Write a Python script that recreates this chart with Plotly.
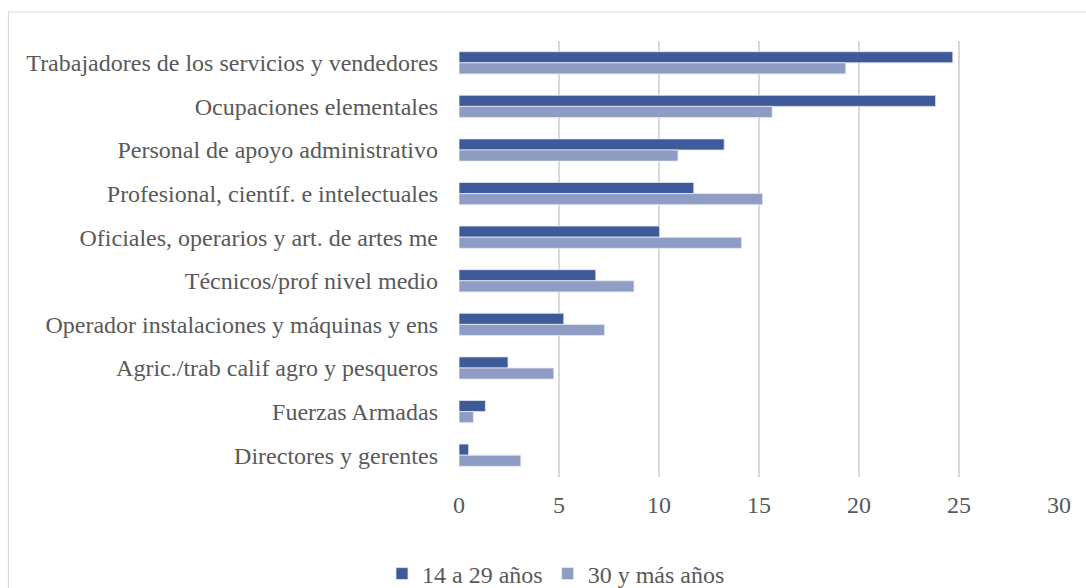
import plotly.graph_objects as go

categories = [
    "Trabajadores de los servicios y vendedores",
    "Ocupaciones elementales",
    "Personal de apoyo administrativo",
    "Profesional, científ. e intelectuales",
    "Oficiales, operarios y art. de artes me",
    "Técnicos/prof nivel medio",
    "Operador instalaciones y máquinas y ens",
    "Agric./trab calif agro y pesqueros",
    "Fuerzas Armadas",
    "Directores y gerentes",
]
jovenes = [24.69, 23.83, 13.26, 11.74, 10.03, 6.84, 5.24, 2.45, 1.32, 0.48]
adultos = [19.34, 15.66, 10.95, 15.18, 14.13, 8.75, 7.28, 4.74, 0.72, 3.09]
series_names = ["14 a 29 años", "30 y más años"]
x_ticks = [0, 5, 10, 15, 20, 25, 30]

W, H = 1086, 588
L, R, T, B = 459, 1059, 41, 477
FONT = "'Times New Roman', 'Liberation Serif', serif"

fig = go.Figure()
fig.add_trace(go.Bar(y=categories, x=jovenes, orientation="h", name=series_names[0],
                     marker=dict(color="#3F5A98", line=dict(color="#E6EAF3", width=0.8))))
fig.add_trace(go.Bar(y=categories, x=adultos, orientation="h", name=series_names[1],
                     marker=dict(color="#8F9DC4", line=dict(color="#E6EAF3", width=0.8))))

def px_x(p):
    return (p - L) / (R - L)

def px_y(p):
    return (B - p) / (B - T)

fig.add_shape(type="rect", xref="paper", yref="paper",
              x0=px_x(8.5), x1=px_x(1100), y0=px_y(600), y1=px_y(12),
              line=dict(color="#D9D9D9", width=1.2), fillcolor="rgba(0,0,0,0)", layer="below")

fig.update_layout(
    width=W, height=H,
    margin=dict(l=L, r=W - R, t=T, b=H - B, pad=0, autoexpand=False),
    paper_bgcolor="white", plot_bgcolor="white",
    barmode="group", bargap=0.49, bargroupgap=0,
    font=dict(family=FONT, size=24, color="#595959"),
    showlegend=True,
    legend=dict(orientation="h", x=px_x(556), xanchor="center", y=px_y(574), yanchor="middle",
                font=dict(family=FONT, size=24, color="#595959"), traceorder="normal",
                itemwidth=30, bgcolor="rgba(0,0,0,0)"),
    xaxis=dict(range=[0, 30], tickvals=x_ticks, showgrid=True, gridcolor="#D9D9D9", gridwidth=1.5,
               zeroline=False, showline=False, ticks="", ticklabelstandoff=11, fixedrange=True,
               automargin=False),
    yaxis=dict(autorange="reversed", showgrid=False, zeroline=False, showline=False,
               ticks="", ticklabelstandoff=20, fixedrange=True, automargin=False),
)

fig.write_html("out.html", config={"displayModeBar": False},
               post_script="document.body.style.margin='0';document.body.style.overflow='hidden';")
